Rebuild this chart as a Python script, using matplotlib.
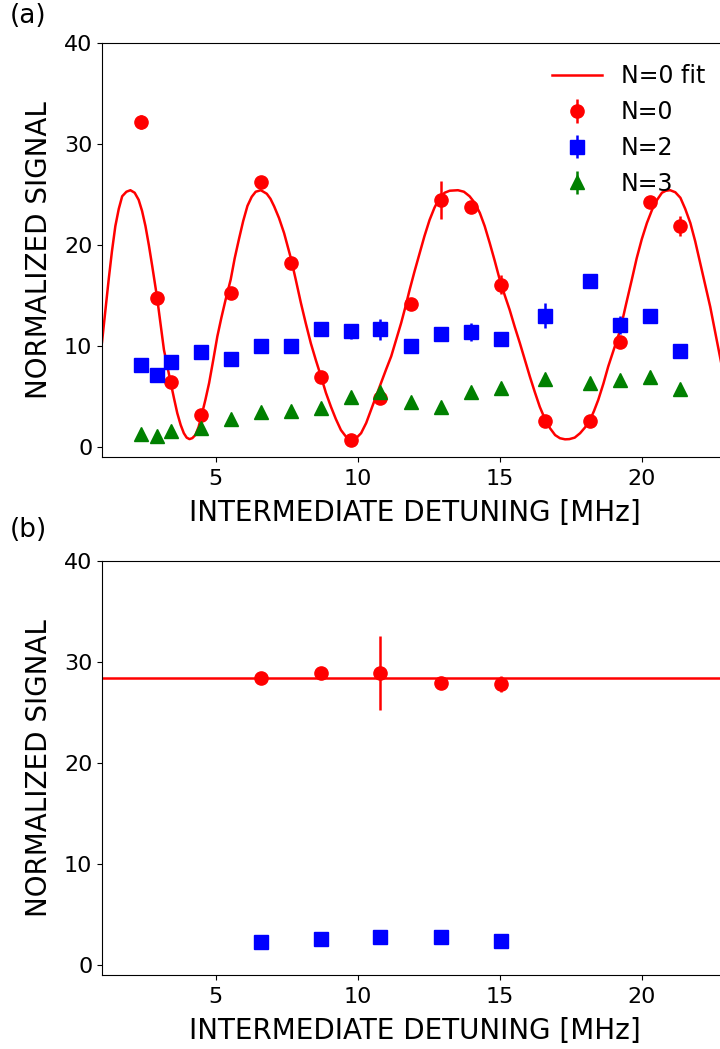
import matplotlib
matplotlib.use("Agg")
import matplotlib.pyplot as plt

# ---- panel (a) data ----
x_a = [2.39, 2.94, 3.44, 4.48, 5.53, 6.61, 7.65, 8.71, 9.77, 10.80,
       11.86, 12.92, 13.98, 15.04, 16.59, 18.18, 19.24, 20.30, 21.36]
n0_a = [32.2, 14.8, 6.5, 3.2, 15.3, 26.3, 18.2, 7.0, 0.7, 4.9,
        14.2, 24.5, 23.8, 16.1, 2.6, 2.6, 10.4, 24.3, 21.9]
n0_a_err = [0.7, 0.3, 0.3, 0.3, 0.4, 0.3, 0.3, 0.3, 0.3, 0.3,
            0.3, 1.87, 0.3, 0.95, 0.3, 0.3, 0.3, 0.3, 1.0]
n2_a = [8.1, 7.2, 8.4, 9.4, 8.75, 10.0, 10.0, 11.7, 11.5, 11.7,
        10.0, 11.2, 11.4, 10.7, 13.0, 16.5, 12.1, 13.0, 9.5]
n2_a_err = [0.3, 0.3, 0.3, 0.3, 0.3, 0.3, 0.3, 0.3, 0.74, 1.04,
            0.3, 0.45, 0.87, 0.7, 1.24, 0.3, 0.86, 0.3, 0.3]
n3_a = [1.3, 1.1, 1.6, 1.95, 2.8, 3.45, 3.55, 3.9, 4.95, 5.5,
        4.5, 4.0, 5.45, 5.9, 6.8, 6.4, 6.7, 6.95, 5.75]
n3_a_err = [0.2] * 19

# N=0 fit curve
fit_x = [1.0, 1.12, 1.235, 1.35, 1.47, 1.59, 1.71, 1.86, 2.0, 2.15, 2.29,
         2.41, 2.53, 2.65, 2.77, 2.94, 3.06, 3.18, 3.3, 3.41, 3.53, 3.65,
         3.77, 3.88, 3.98, 4.08, 4.18, 4.29, 4.4, 4.51, 4.64, 4.77, 4.92,
         5.06, 5.2, 5.35, 5.53, 5.67, 5.82, 5.97, 6.12, 6.27, 6.41, 6.59,
         6.8, 6.93, 7.06, 7.23, 7.41, 7.65, 7.82, 8.0, 8.17, 8.35, 8.53,
         8.71, 8.88, 9.06, 9.23, 9.41, 9.6, 9.77, 9.95, 10.12, 10.3,
         10.47, 10.64, 10.8, 11.0, 11.18, 11.35, 11.53, 11.68, 11.83, 12.0,
         12.18, 12.35, 12.53, 12.7, 12.88, 13.06, 13.24, 13.53, 13.74,
         13.94, 14.12, 14.3, 14.47, 14.65, 14.82, 15.0, 15.17, 15.35, 15.53,
         15.71, 15.88, 16.06, 16.23, 16.41, 16.59, 16.77, 16.95, 17.12,
         17.3, 17.45, 17.64, 17.83, 18.0, 18.18, 18.32, 18.47, 18.65, 18.82,
         19.03, 19.24, 19.45, 19.65, 19.82, 20.0, 20.18, 20.36, 20.54,
         20.71, 20.85, 21.0, 21.18, 21.36, 21.53, 21.71, 21.88, 22.06, 22.23,
         22.41, 22.59, 22.77, 23.0]
fit_y = [10.4, 13.6, 16.6, 19.4, 21.9, 23.6, 24.85, 25.3, 25.45, 25.2, 24.5,
         23.4, 21.9, 20.0, 17.9, 14.8, 12.2, 9.65, 8.0, 6.5, 4.9, 3.37,
         2.2, 1.39, 0.95, 0.8, 0.9, 1.22, 2.0, 3.2, 4.7, 6.35, 8.7,
         10.97, 12.8, 14.6, 16.6, 18.7, 20.6, 22.4, 23.9, 24.8, 25.3, 25.45,
         25.1, 24.6, 23.85, 22.7, 21.2, 18.7, 16.6, 14.3, 12.3, 10.3, 8.6,
         7.0, 5.4, 4.0, 2.8, 1.7, 1.0, 0.75, 0.9, 1.39, 2.4,
         3.7, 5.0, 6.2, 7.7, 9.0, 10.6, 12.3, 13.9, 15.6, 17.4,
         19.2, 20.9, 22.5, 23.7, 24.7, 25.2, 25.4, 25.45, 25.3,
         24.85, 24.2, 23.2, 21.9, 20.2, 18.5, 16.6, 15.1, 13.6, 11.9,
         10.3, 8.7, 7.0, 5.5, 4.0, 2.8, 1.88, 1.2, 0.89,
         0.78, 0.8, 0.95, 1.39, 1.95, 2.7, 3.6, 4.7, 6.3, 8.0,
         9.8, 11.6, 14.2, 16.6, 18.7, 20.6, 22.2, 23.5, 24.5,
         25.2, 25.4, 25.45, 25.25, 24.7, 23.6, 22.2, 20.4, 18.2, 16.1,
         13.9, 11.3, 8.7, 5.6]

# ---- panel (b) data ----
x_b = [6.61, 8.71, 10.80, 12.92, 15.04]
n0_b = [28.4, 28.9, 28.9, 27.95, 27.8]
n0_b_err = [0.35, 0.5, 3.7, 0.3, 0.8]
n2_b = [2.25, 2.6, 2.75, 2.8, 2.35]
n2_b_err = [0.2, 0.2, 0.2, 0.2, 0.2]
n0_b_level = 28.4

FS_TICK = 16
FS_LABEL = 20
FS_LEG = 17
MS = 9.5

fig = plt.figure(figsize=(7.2, 10.49), dpi=100)
ax1 = fig.add_axes([102 / 720, 1 - 457.3 / 1049, 625 / 720, 414 / 1049])
ax2 = fig.add_axes([102 / 720, 1 - 975 / 1049, 625 / 720, 414 / 1049])

ax1.plot(fit_x, fit_y, color="red", lw=1.8, label="N=0 fit")
ax1.errorbar(x_a, n0_a, yerr=n0_a_err, fmt="o", color="red", ms=MS,
             elinewidth=1.8, capsize=0, label="N=0")
ax1.errorbar(x_a, n2_a, yerr=n2_a_err, fmt="s", color="blue", ms=MS,
             elinewidth=1.8, capsize=0, label="N=2")
ax1.errorbar(x_a, n3_a, yerr=n3_a_err, fmt="^", color="green", ms=MS,
             elinewidth=1.8, capsize=0, label="N=3")
ax1.legend(loc="upper left", bbox_to_anchor=(531 / 720, 1 - 43 / 1049),
           bbox_transform=fig.transFigure, frameon=False, fontsize=FS_LEG,
           handlelength=2.1)

ax2.axhline(n0_b_level, color="red", lw=1.8)
ax2.errorbar(x_b, n0_b, yerr=n0_b_err, fmt="o", color="red", ms=MS,
             elinewidth=1.8, capsize=0)
ax2.errorbar(x_b, n2_b, yerr=n2_b_err, fmt="s", color="blue", ms=MS,
             elinewidth=1.8, capsize=0)

for ax in (ax1, ax2):
    ax.set_xlim(1, 23)
    ax.set_ylim(-1, 40)
    ax.set_xticks([5, 10, 15, 20])
    ax.set_yticks([0, 10, 20, 30, 40])
    ax.tick_params(labelsize=FS_TICK)
    ax.tick_params(axis="x", pad=5)
    ax.set_xlabel("INTERMEDIATE DETUNING [MHz]", fontsize=FS_LABEL, labelpad=7)
    ax.set_ylabel("NORMALIZED SIGNAL", fontsize=FS_LABEL, labelpad=8)

fig.text(10 / 720, 1 - 16 / 1049, "(a)", fontsize=19, va="center", ha="left")
fig.text(10 / 720, 1 - 530 / 1049, "(b)", fontsize=19, va="center", ha="left")

fig.savefig("out.png", dpi=100)
